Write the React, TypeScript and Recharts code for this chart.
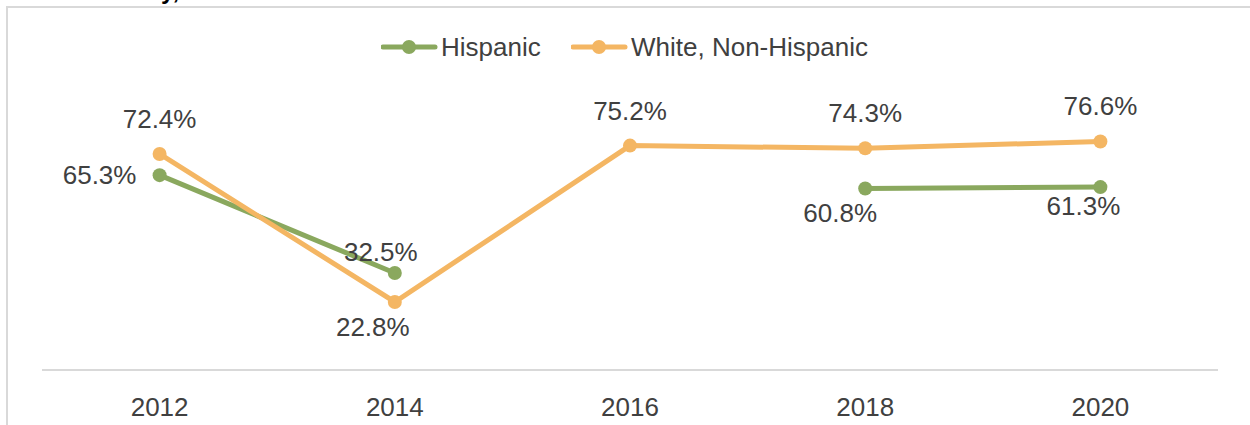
import React from "react";
import { LineChart, Line, XAxis, YAxis, LabelList } from "recharts";

// values (percent)
const years = ["2012", "2014", "2016", "2018", "2020"];
const hispanic = [65.3, 32.5, null, 60.8, 61.3];
const whiteNonHispanic = [72.4, 22.8, 75.2, 74.3, 76.6];

const GREEN = "#8aa85e";
const ORANGE = "#f4b663";
const TEXT = "#404040";
const FONT = "'Liberation Sans', Arial, sans-serif";

const data = years.map((year, i) => ({
  year,
  hispanic: hispanic[i],
  white: whiteNonHispanic[i],
}));

// where each data label sits relative to its point
const hispanicLabelShift = [
  { dx: -60, dy: 0 },
  { dx: -14, dy: -21 },
  { dx: 0, dy: 0 },
  { dx: -25, dy: 24 },
  { dx: -17, dy: 19 },
];
const whiteLabelShift = [
  { dx: 0, dy: -35 },
  { dx: -22, dy: 25 },
  { dx: 0, dy: -35 },
  { dx: 0, dy: -35 },
  { dx: 0, dy: -35 },
];

const makeLabel = (shifts: { dx: number; dy: number }[]) => (props: any) => {
  const { x, y, value, index } = props;
  if (value == null) return null;
  const s = shifts[index] ?? { dx: 0, dy: -35 };
  return (
    <text
      x={x + s.dx}
      y={y + s.dy}
      textAnchor="middle"
      dominantBaseline="central"
      fill={TEXT}
      fontSize={26}
      fontFamily={FONT}
    >
      {`${Number(value).toFixed(1)}%`}
    </text>
  );
};

const LegendItem = ({ color, label, x }: { color: string; label: string; x: number }) => (
  <div style={{ position: "absolute", left: x, top: 34, height: 26, display: "flex", alignItems: "center" }}>
    <svg width={60} height={26} style={{ display: "block" }}>
      <line x1={2} y1={13} x2={54} y2={13} stroke={color} strokeWidth={5} strokeLinecap="round" />
      <circle cx={28} cy={13} r={7} fill={color} />
    </svg>
    <span style={{ fontFamily: FONT, fontSize: 26, color: TEXT, whiteSpace: "nowrap", lineHeight: "26px" }}>
      {label}
    </span>
  </div>
);

export default function App() {
  return (
    <div
      style={{
        position: "fixed",
        left: 0,
        top: 0,
        width: 1250,
        height: 425,
        overflow: "hidden",
        background: "#fff",
      }}
    >
      {/* tail of the cut-off title above the chart frame */}
      <div style={{ position: "absolute", left: 161, top: 0, height: 6, width: 24, overflow: "hidden" }}>
        <span
          style={{
            position: "absolute",
            top: -21,
            left: 0,
            fontFamily: FONT,
            fontWeight: "bold",
            fontSize: 24,
            color: "#000",
            lineHeight: "24px",
          }}
        >
          y,
        </span>
      </div>
      {/* chart frame */}
      <div
        style={{
          position: "absolute",
          left: 6,
          top: 6,
          width: 1300,
          height: 500,
          border: "2px solid #d9d9d9",
        }}
      />
      <LegendItem color={GREEN} label="Hispanic" x={381} />
      <LegendItem color={ORANGE} label="White, Non-Hispanic" x={571} />
      <div style={{ position: "absolute", left: 0, top: 0 }}>
        <LineChart width={1250} height={425} data={data} margin={{ top: 71.6, right: 32, bottom: 0, left: 42 }}>
          <XAxis
            dataKey="year"
            height={55}
            padding={{ left: 117.6, right: 117.6 }}
            axisLine={{ stroke: "#d9d9d9", strokeWidth: 2 }}
            tickLine={false}
            tickSize={0}
            tickMargin={28}
            tick={{ fill: TEXT, fontSize: 26, fontFamily: FONT }}
          />
          <YAxis hide domain={[0, 100]} />
          <Line
            dataKey="hispanic"
            stroke={GREEN}
            strokeWidth={5}
            dot={{ r: 7, fill: GREEN, stroke: GREEN, strokeWidth: 0 }}
            activeDot={false}
            isAnimationActive={false}
          >
            <LabelList dataKey="hispanic" content={makeLabel(hispanicLabelShift)} />
          </Line>
          <Line
            dataKey="white"
            stroke={ORANGE}
            strokeWidth={5}
            dot={{ r: 7, fill: ORANGE, stroke: ORANGE, strokeWidth: 0 }}
            activeDot={false}
            isAnimationActive={false}
          >
            <LabelList dataKey="white" content={makeLabel(whiteLabelShift)} />
          </Line>
        </LineChart>
      </div>
    </div>
  );
}
